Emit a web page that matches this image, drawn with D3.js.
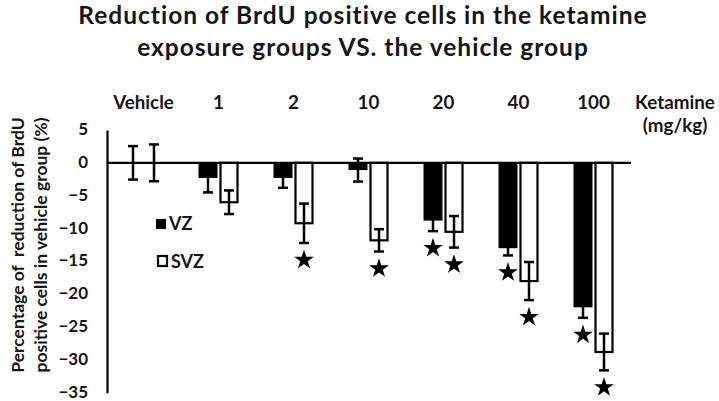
<!DOCTYPE html>
<html><head><meta charset="utf-8">
<script src="https://cdn.jsdelivr.net/npm/d3@7"></script>
<style>
body{margin:0;background:#fff;}
text{font-family:Lato,"Open Sans",sans-serif;font-weight:bold;fill:#151515;white-space:pre;}
</style></head>
<body><svg id="c" width="719" height="401"></svg>
<script>
const categories = ["Vehicle","1","2","10","20","40","100"];
const vzValues  = [0, -2.3, -2.3, -1.1, -8.8, -13.0, -22.0];
const vzErrors  = [2.55, 2.2, 1.5, 1.75, 1.6, 1.1, 1.6];
const svzValues = [0, -6.0, -9.2, -11.8, -10.5, -18.0, -28.8];
const svzErrors = [2.8, 1.8, 3.0, 1.7, 2.4, 2.9, 2.8];
const vzSignificant  = [false,false,false,false,true,true,true];
const svzSignificant = [false,false,true,true,true,true,true];
const yTicks = [5,0,-5,-10,-15,-20,-25,-30,-35];
const titleLines = ["Reduction of BrdU positive cells in the ketamine","exposure groups VS. the vehicle group"];
const yTitleLines = ["Percentage of  reduction of BrdU","positive cells in vehicle group (%)"];
const seriesNames = ["VZ","SVZ"];

const svg = d3.select("#c");
const x = d3.scaleBand().domain(categories).range([106,631]);
const y = d3.scaleLinear().domain([-35,5]).range([392.7,130]);
const ink = "#000";

// title
svg.selectAll("text.title").data(titleLines).join("text")
  .attr("class","title").attr("x",363).attr("y",(d,i)=>i?56:24)
  .attr("text-anchor","middle").style("font-size","24.5px").style("letter-spacing","1px").text(d=>d);

// y axis
const yAxis = d3.axisLeft(y).tickValues(yTicks).tickSize(0).tickPadding(19).tickSizeOuter(0);
const ga = svg.append("g").attr("transform","translate(107,0)").call(yAxis);
ga.select(".domain").attr("stroke",ink).attr("stroke-width",2.2);
ga.selectAll("text").attr("dy","0.27em").style("font-size","17px").style("font-family","Lato,sans-serif").style("font-weight","bold").attr("fill","#151515");

// y title
svg.selectAll("text.ytitle").data(yTitleLines).join("text")
  .attr("class","ytitle")
  .attr("transform",(d,i)=>`translate(${i?47:24},245) rotate(-90)`)
  .attr("text-anchor","middle").style("font-size","17.5px").text(d=>d);

// category labels
svg.selectAll("text.cat").data(categories).join("text")
  .attr("class","cat").attr("x",d=>x(d)+x.bandwidth()/2).attr("y",109)
  .attr("text-anchor","middle").style("font-size","18.8px").text(d=>d);
svg.append("text").attr("x",675).attr("y",109).attr("text-anchor","middle").style("font-size","18.8px").text("Ketamine");
svg.append("text").attr("x",675).attr("y",132).attr("text-anchor","middle").style("font-size","18.8px").text("(mg/kg)");

const cx = d=>x(d)+x.bandwidth()/2;

// VZ bars
svg.selectAll("rect.vz").data(categories).join("rect")
  .attr("class","vz").attr("x",d=>cx(d)-20).attr("width",19)
  .attr("y",(d,i)=>Math.min(y(0),y(vzValues[i])))
  .attr("height",(d,i)=>Math.abs(y(vzValues[i])-y(0)))
  .attr("fill",ink);
// SVZ bars
svg.selectAll("rect.svz").data(categories).join("rect")
  .attr("class","svz").attr("x",d=>cx(d)+2).attr("width",17)
  .attr("y",(d,i)=>Math.min(y(0),y(svzValues[i])))
  .attr("height",(d,i)=>Math.abs(y(svzValues[i])-y(0)))
  .attr("fill","#fff").attr("stroke",ink).attr("stroke-width",2.2);

// zero line
svg.append("line").attr("x1",107).attr("x2",631).attr("y1",y(0)).attr("y2",y(0))
  .attr("stroke",ink).attr("stroke-width",2.2);

// error bars
function errBars(cls, vals, errs, dx){
  const g = svg.selectAll("g."+cls).data(categories).join("g").attr("class",cls);
  g.append("line").attr("x1",d=>cx(d)+dx).attr("x2",d=>cx(d)+dx)
    .attr("y1",(d,i)=>y(vals[i]+errs[i])).attr("y2",(d,i)=>y(vals[i]-errs[i]))
    .attr("stroke",ink).attr("stroke-width",2.5);
  [1,-1].forEach(s=>{
    g.append("line").attr("x1",d=>cx(d)+dx-5).attr("x2",d=>cx(d)+dx+5)
      .attr("y1",(d,i)=>y(vals[i]+s*errs[i])).attr("y2",(d,i)=>y(vals[i]+s*errs[i]))
      .attr("stroke",ink).attr("stroke-width",2.5);
  });
}
errBars("evz", vzValues, vzErrors, -10.5);
errBars("esvz", svzValues, svzErrors, 10.5);

// stars
const star = d3.symbol().type(d3.symbolStar).size(120);
function stars(cls, vals, errs, sig, dx){
  svg.selectAll("path."+cls).data(categories.filter((d,i)=>sig[i])).join("path")
    .attr("class",cls)
    .attr("transform",d=>{const i=categories.indexOf(d);return `translate(${cx(d)+dx},${y(vals[i]-errs[i])+17})`;})
    .attr("d",star).attr("fill",ink);
}
stars("svz-star", vzValues, vzErrors, vzSignificant, -10.5);
stars("ssvz-star", svzValues, svzErrors, svzSignificant, 10.5);

// legend
svg.append("rect").attr("x",156).attr("y",219).attr("width",10).attr("height",10).attr("fill",ink);
svg.append("rect").attr("x",158).attr("y",256).attr("width",9).attr("height",10).attr("fill","#fff").attr("stroke",ink).attr("stroke-width",2.2);
svg.append("text").attr("x",169).attr("y",229.5).style("font-size","18px").text(seriesNames[0]);
svg.append("text").attr("x",171).attr("y",267.5).style("font-size","18px").text(seriesNames[1]);
</script></body></html>
